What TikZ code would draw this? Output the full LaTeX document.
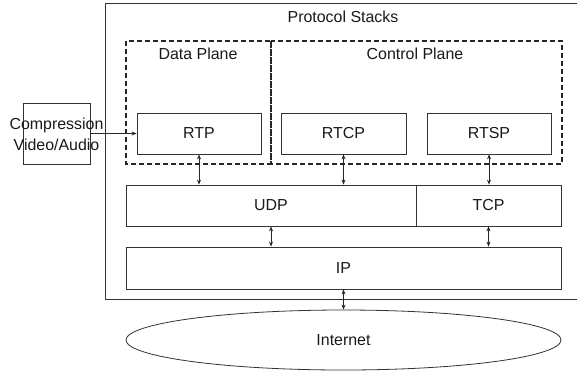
\documentclass[tikz,border=0pt]{standalone}
\usepackage{fontspec}
\setmainfont{Liberation Sans}
\usetikzlibrary{arrows.meta,shapes.geometric}
\begin{document}
\begin{tikzpicture}[x=1bp,y=-1bp,
  every node/.style={font=\fontsize{16}{20}\selectfont, text=black!90, inner sep=0pt},
  box/.style={draw=black!80, line width=0.8bp, rectangle},
  plane/.style={draw=black!85, line width=1.1bp, dash pattern=on 5bp off 3bp},
  link/.style={draw=black!85, line width=0.8bp, {Stealth[length=5bp,width=4bp]}-{Stealth[length=5bp,width=4bp]}},
  feed/.style={draw=black!85, line width=0.8bp, -{Stealth[length=5bp,width=4bp]}}]
\clip (0,0) rectangle (577,372);
\fill[white] (0,0) rectangle (577,372);
% outer box
\draw[black!80, line width=0.8bp] (105,3) rectangle (600,299);
\node (title) at (343,17) {Protocol Stacks};
% planes
\draw[plane] (126,41) rectangle (271,164);
\draw[plane] (271,41) rectangle (562,164);
\node (dp) at (198,54) {Data Plane};
\node (cp) at (415,54) {Control Plane};
% boxes
\node[box, minimum width=124bp, minimum height=41bp] (rtp) at (199,133.5) {RTP};
\node[box, minimum width=125bp, minimum height=41bp] (rtcp) at (343.5,133.5) {RTCP};
\node[box, minimum width=124bp, minimum height=41bp] (rtsp) at (489,133.5) {RTSP};
\node[box, minimum width=290bp, minimum height=41bp] (udp) at (271,205.5) {UDP};
\node[box, minimum width=145bp, minimum height=41bp] (tcp) at (488.5,205.5) {TCP};
\node[box, minimum width=435bp, minimum height=42bp] (ip) at (343.5,268) {IP};
\node[draw=black!80, line width=0.8bp, ellipse, minimum width=435bp, minimum height=60bp] (inet) at (343.5,340) {Internet};
\node[box, minimum width=67bp, minimum height=61bp] (comp) at (56.5,133.5) {};
\node[align=center] (complbl) at (56.5,134) {Compression\\[1bp]Video/Audio};
% connectors
\draw[feed] (comp.east) -- (rtp.west);
\draw[link] (rtp.south) -- (rtp.south |- udp.north);
\draw[link] (rtcp.south) -- (rtcp.south |- udp.north);
\draw[link] (rtsp.south) -- (rtsp.south |- tcp.north);
\draw[link] (udp.south) -- (udp.south |- ip.north);
\draw[link] (tcp.south) -- (tcp.south |- ip.north);
\draw[link] (ip.south) -- (inet.north);
\end{tikzpicture}
\end{document}
